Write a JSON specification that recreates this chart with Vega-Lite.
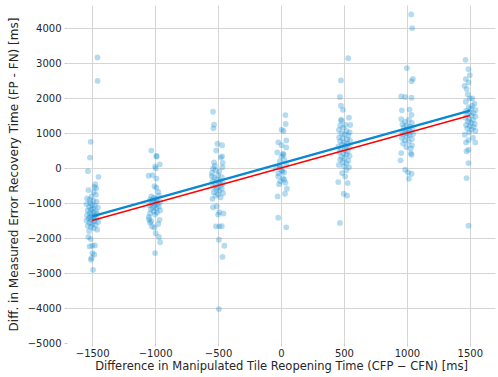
{
  "$schema": "https://vega.github.io/schema/vega-lite/v6.json",
  "width": 428,
  "height": 338,
  "autosize": {"type": "none"},
  "padding": {"left": 67, "top": 5, "right": 3, "bottom": 34},
  "background": "white",
  "config": {
    "view": {"stroke": null},
    "font": "DejaVu Sans",
    "axis": {
      "domain": false,
      "gridColor": "#d5d5d5",
      "gridWidth": 1,
      "tickColor": "#cccccc",
      "tickSize": 3,
      "labelFont": "DejaVu Sans",
      "labelFontSize": 10,
      "labelColor": "#262626",
      "titleFont": "DejaVu Sans",
      "titleFontSize": 11.5,
      "titleFontWeight": "normal",
      "titleColor": "#262626"
    }
  },
  "datasets": {
    "pts": [
      {"x": -1458, "y": 3160}, {"x": -1457, "y": 2490}, {"x": -1512, "y": 750}, {"x": -1518, "y": 300}, {"x": -1534, "y": -90}, {"x": -1450, "y": -250},
      {"x": -1475, "y": -460}, {"x": -1482, "y": -540}, {"x": -1468, "y": -580}, {"x": -1530, "y": -630}, {"x": -1488, "y": -690}, {"x": -1470, "y": -760},
      {"x": -1505, "y": -820}, {"x": -1540, "y": -870}, {"x": -1520, "y": -910}, {"x": -1490, "y": -940}, {"x": -1465, "y": -960}, {"x": -1515, "y": -1000},
      {"x": -1545, "y": -1030}, {"x": -1500, "y": -1060}, {"x": -1478, "y": -1080}, {"x": -1525, "y": -1110}, {"x": -1455, "y": -1130}, {"x": -1495, "y": -1160},
      {"x": -1510, "y": -1190}, {"x": -1535, "y": -1210}, {"x": -1470, "y": -1230}, {"x": -1488, "y": -1260}, {"x": -1520, "y": -1290}, {"x": -1460, "y": -1310},
      {"x": -1503, "y": -1330}, {"x": -1540, "y": -1350}, {"x": -1480, "y": -1370}, {"x": -1515, "y": -1400}, {"x": -1492, "y": -1420}, {"x": -1528, "y": -1440},
      {"x": -1466, "y": -1450}, {"x": -1508, "y": -1480}, {"x": -1545, "y": -1500}, {"x": -1485, "y": -1520}, {"x": -1452, "y": -1540}, {"x": -1520, "y": -1560},
      {"x": -1498, "y": -1590}, {"x": -1472, "y": -1620}, {"x": -1535, "y": -1650}, {"x": -1510, "y": -1680}, {"x": -1488, "y": -1720}, {"x": -1460, "y": -1760},
      {"x": -1525, "y": -1800}, {"x": -1530, "y": -1970}, {"x": -1512, "y": -2030}, {"x": -1478, "y": -2210}, {"x": -1500, "y": -2220}, {"x": -1520, "y": -2240},
      {"x": -1498, "y": -2430}, {"x": -1483, "y": -2470}, {"x": -1505, "y": -2570}, {"x": -1510, "y": -2620}, {"x": -1493, "y": -2910},

      {"x": -1030, "y": 500}, {"x": -990, "y": 345}, {"x": -988, "y": 330}, {"x": -1000, "y": 50}, {"x": -963, "y": 105}, {"x": -995, "y": -10},
      {"x": -1052, "y": -220}, {"x": -1020, "y": -200}, {"x": -990, "y": -300}, {"x": -1005, "y": -520}, {"x": -990, "y": -560}, {"x": -975, "y": -680},
      {"x": -1030, "y": -810}, {"x": -970, "y": -790}, {"x": -1010, "y": -850}, {"x": -995, "y": -880}, {"x": -1040, "y": -900}, {"x": -985, "y": -930},
      {"x": -1015, "y": -950}, {"x": -960, "y": -970}, {"x": -1000, "y": -990}, {"x": -1025, "y": -1010}, {"x": -980, "y": -1030}, {"x": -1045, "y": -1060},
      {"x": -1005, "y": -1080}, {"x": -970, "y": -1100}, {"x": -1020, "y": -1130}, {"x": -990, "y": -1150}, {"x": -1035, "y": -1180}, {"x": -960, "y": -1210},
      {"x": -1010, "y": -1240}, {"x": -985, "y": -1270}, {"x": -1040, "y": -1300}, {"x": -1000, "y": -1330}, {"x": -1050, "y": -1400}, {"x": -1048, "y": -1470},
      {"x": -1030, "y": -1520}, {"x": -965, "y": -1480}, {"x": -1040, "y": -1560}, {"x": -1025, "y": -1670}, {"x": -975, "y": -1600}, {"x": -1005, "y": -1700},
      {"x": -995, "y": -1860}, {"x": -970, "y": -1970}, {"x": -960, "y": -2120}, {"x": -1000, "y": -2430},

      {"x": -540, "y": 1610}, {"x": -532, "y": 1240}, {"x": -537, "y": 1135}, {"x": -505, "y": 695}, {"x": -468, "y": 655}, {"x": -515, "y": 505},
      {"x": -468, "y": 335}, {"x": -478, "y": 300}, {"x": -532, "y": 160}, {"x": -463, "y": 150}, {"x": -525, "y": 60}, {"x": -465, "y": 20},
      {"x": -540, "y": -10}, {"x": -520, "y": -60}, {"x": -548, "y": -140}, {"x": -490, "y": -100}, {"x": -550, "y": -230}, {"x": -500, "y": -200},
      {"x": -530, "y": -280}, {"x": -470, "y": -260}, {"x": -510, "y": -330}, {"x": -485, "y": -360}, {"x": -545, "y": -380}, {"x": -495, "y": -410},
      {"x": -460, "y": -440}, {"x": -520, "y": -470}, {"x": -480, "y": -500}, {"x": -540, "y": -530}, {"x": -505, "y": -560}, {"x": -470, "y": -590},
      {"x": -515, "y": -620}, {"x": -490, "y": -650}, {"x": -535, "y": -690}, {"x": -460, "y": -720}, {"x": -500, "y": -750}, {"x": -520, "y": -790},
      {"x": -480, "y": -840}, {"x": -545, "y": -880}, {"x": -510, "y": -1090}, {"x": -540, "y": -1120}, {"x": -500, "y": -1330}, {"x": -457, "y": -1300},
      {"x": -490, "y": -1260}, {"x": -517, "y": -1665}, {"x": -490, "y": -1665}, {"x": -470, "y": -1660}, {"x": -493, "y": -2050}, {"x": -450, "y": -2220},
      {"x": -465, "y": -2540}, {"x": -493, "y": -4030},

      {"x": 35, "y": 1515}, {"x": 37, "y": 1260}, {"x": 5, "y": 1095}, {"x": 20, "y": 1060}, {"x": 42, "y": 790}, {"x": -22, "y": 735},
      {"x": 5, "y": 655}, {"x": 42, "y": 590}, {"x": -30, "y": 450}, {"x": 16, "y": 410}, {"x": 5, "y": 335}, {"x": 26, "y": 240},
      {"x": -10, "y": 200}, {"x": 42, "y": 95}, {"x": -12, "y": 50}, {"x": -38, "y": 10}, {"x": 5, "y": -60}, {"x": 25, "y": -120},
      {"x": -20, "y": -150}, {"x": -22, "y": -240}, {"x": 15, "y": -290}, {"x": 26, "y": -335}, {"x": -5, "y": -380}, {"x": 35, "y": -420},
      {"x": -15, "y": -460}, {"x": 47, "y": -590}, {"x": -27, "y": -810}, {"x": 32, "y": -735}, {"x": -22, "y": -1420}, {"x": 42, "y": -1695},
      {"x": 10, "y": -100}, {"x": -5, "y": 30}, {"x": 20, "y": 380},

      {"x": 534, "y": 3140}, {"x": 476, "y": 2505}, {"x": 468, "y": 2030}, {"x": 476, "y": 1780}, {"x": 492, "y": 1665}, {"x": 476, "y": 1380},
      {"x": 482, "y": 1350}, {"x": 540, "y": 1440}, {"x": 550, "y": 1230}, {"x": 513, "y": 1230}, {"x": 471, "y": 1215}, {"x": 492, "y": 1150},
      {"x": 460, "y": 1090}, {"x": 520, "y": 1060}, {"x": 545, "y": 1020}, {"x": 480, "y": 990}, {"x": 505, "y": 960}, {"x": 535, "y": 930},
      {"x": 462, "y": 876}, {"x": 490, "y": 850}, {"x": 525, "y": 820}, {"x": 548, "y": 790}, {"x": 470, "y": 760}, {"x": 500, "y": 730},
      {"x": 530, "y": 700}, {"x": 485, "y": 670}, {"x": 515, "y": 640}, {"x": 455, "y": 610}, {"x": 540, "y": 580}, {"x": 475, "y": 550},
      {"x": 505, "y": 520}, {"x": 530, "y": 480}, {"x": 465, "y": 450}, {"x": 495, "y": 420}, {"x": 520, "y": 390}, {"x": 545, "y": 350},
      {"x": 480, "y": 320}, {"x": 505, "y": 280}, {"x": 470, "y": 240}, {"x": 535, "y": 210}, {"x": 490, "y": 170}, {"x": 520, "y": 130},
      {"x": 460, "y": 90}, {"x": 500, "y": 50}, {"x": 540, "y": 20}, {"x": 455, "y": -400}, {"x": 485, "y": -143}, {"x": 518, "y": -60},
      {"x": 530, "y": -430}, {"x": 498, "y": -735}, {"x": 525, "y": -790}, {"x": 468, "y": -1570}, {"x": 510, "y": -240},

      {"x": 1034, "y": 4390}, {"x": 1042, "y": 4000}, {"x": 1000, "y": 2856}, {"x": 1048, "y": 2550}, {"x": 1037, "y": 2480}, {"x": 955, "y": 2047},
      {"x": 987, "y": 2030}, {"x": 1037, "y": 2010}, {"x": 960, "y": 1650}, {"x": 1021, "y": 1670}, {"x": 1037, "y": 1520}, {"x": 955, "y": 1400},
      {"x": 1016, "y": 1380}, {"x": 985, "y": 1320}, {"x": 1040, "y": 1290}, {"x": 965, "y": 1250}, {"x": 1000, "y": 1220}, {"x": 1025, "y": 1190},
      {"x": 975, "y": 1160}, {"x": 1045, "y": 1130}, {"x": 990, "y": 1100}, {"x": 1010, "y": 1080}, {"x": 960, "y": 1050}, {"x": 1030, "y": 1030},
      {"x": 995, "y": 1000}, {"x": 1050, "y": 980}, {"x": 970, "y": 960}, {"x": 1020, "y": 930}, {"x": 1000, "y": 900}, {"x": 960, "y": 860},
      {"x": 1040, "y": 830}, {"x": 985, "y": 790}, {"x": 1015, "y": 750}, {"x": 970, "y": 700}, {"x": 1040, "y": 650}, {"x": 995, "y": 600},
      {"x": 1030, "y": 560}, {"x": 955, "y": 428}, {"x": 1032, "y": 420}, {"x": 1037, "y": 380}, {"x": 950, "y": 220}, {"x": 987, "y": -48},
      {"x": 1010, "y": -124}, {"x": 1037, "y": -162}, {"x": 1016, "y": -305},

      {"x": 1466, "y": 3094}, {"x": 1490, "y": 2827}, {"x": 1500, "y": 2656}, {"x": 1468, "y": 2542}, {"x": 1490, "y": 2447}, {"x": 1458, "y": 2350},
      {"x": 1475, "y": 2256}, {"x": 1484, "y": 2104}, {"x": 1500, "y": 1990}, {"x": 1520, "y": 1990}, {"x": 1468, "y": 1895}, {"x": 1537, "y": 1837},
      {"x": 1520, "y": 1780}, {"x": 1490, "y": 1740}, {"x": 1510, "y": 1700}, {"x": 1545, "y": 1660}, {"x": 1470, "y": 1630}, {"x": 1500, "y": 1600},
      {"x": 1530, "y": 1570}, {"x": 1480, "y": 1540}, {"x": 1515, "y": 1500}, {"x": 1545, "y": 1470}, {"x": 1465, "y": 1440}, {"x": 1495, "y": 1400},
      {"x": 1525, "y": 1370}, {"x": 1485, "y": 1330}, {"x": 1510, "y": 1290}, {"x": 1540, "y": 1260}, {"x": 1470, "y": 1230}, {"x": 1500, "y": 1200},
      {"x": 1530, "y": 1170}, {"x": 1480, "y": 1130}, {"x": 1515, "y": 1100}, {"x": 1545, "y": 1060}, {"x": 1495, "y": 1020}, {"x": 1460, "y": 952},
      {"x": 1470, "y": 733}, {"x": 1543, "y": 733}, {"x": 1490, "y": 800}, {"x": 1525, "y": 870}, {"x": 1490, "y": 524}, {"x": 1474, "y": 480},
      {"x": 1490, "y": 143}, {"x": 1474, "y": -286}, {"x": 1490, "y": -1647}
    ],
    "fit": [{"x": -1500, "y": -1380}, {"x": 1500, "y": 1640}],
    "identity": [{"x": -1500, "y": -1500}, {"x": 1500, "y": 1500}]
  },
  "encoding": {
    "x": {
      "field": "x",
      "type": "quantitative",
      "scale": {"domain": [-1700, 1700], "nice": false, "zero": false},
      "axis": {
        "values": [-1500, -1000, -500, 0, 500, 1000, 1500],
        "format": "d",
        "labelPadding": 2,
        "titlePadding": 2,
        "title": "Difference in Manipulated Tile Reopening Time (CFP − CFN) [ms]"
      }
    },
    "y": {
      "field": "y",
      "type": "quantitative",
      "scale": {"domain": [-5000, 4660], "nice": false, "zero": false},
      "axis": {
        "values": [-5000, -4000, -3000, -2000, -1000, 0, 1000, 2000, 3000, 4000],
        "format": "d",
        "labelPadding": 3,
        "titlePadding": 7,
        "titleFontSize": 12,
        "gridOpacity": {"condition": {"test": "datum.value === -5000", "value": 0}, "value": 1},
        "title": "Diff. in Measured Error Recovery Time (FP - FN) [ms]"
      }
    }
  },
  "layer": [
    {
      "data": {"name": "pts"},
      "mark": {"type": "circle", "size": 34, "opacity": 0.3, "color": "#0a88d2", "strokeWidth": 0}
    },
    {
      "data": {"name": "fit"},
      "mark": {"type": "line", "color": "#0a88d2", "strokeWidth": 2.5}
    },
    {
      "data": {"name": "identity"},
      "mark": {"type": "line", "color": "#ff0000", "strokeWidth": 1.5}
    }
  ]
}
